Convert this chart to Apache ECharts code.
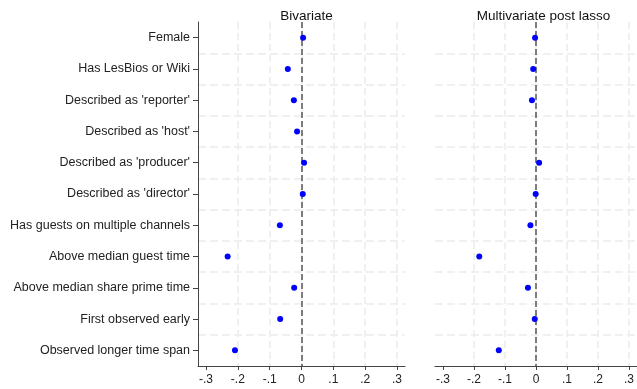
<!DOCTYPE html>
<html>
<head>
<meta charset="utf-8">
<script src="https://cdn.jsdelivr.net/npm/echarts@6/dist/echarts.min.js"></script>
<style>html,body{margin:0;padding:0;background:#fff}#c{width:637px;height:389px}</style>
</head>
<body>
<div id="c"></div>
<script>
var categories = ["Female","Has LesBios or Wiki","Described as 'reporter'","Described as 'host'","Described as 'producer'","Described as 'director'","Has guests on multiple channels","Above median guest time","Above median share prime time","First observed early","Observed longer time span"];
var bivariate = [0.005,-0.043,-0.024,-0.014,0.008,0.004,-0.068,-0.232,-0.023,-0.067,-0.209];
var multivariate = [-0.003,-0.009,-0.013,null,0.010,-0.001,-0.018,-0.183,-0.026,-0.004,-0.120];
var panelTitles = ["Bivariate","Multivariate post lasso"];
var tickValues = [-0.3,-0.2,-0.1,0,0.1,0.2,0.3];
var tickLabels = ["-.3","-.2","-.1","0",".1",".2",".3"];

var FONT = '"Liberation Sans", Arial, Helvetica, sans-serif';
var GRIDCOL = '#ebebeb';
function fmt(v){
  for (var i=0;i<tickValues.length;i++){ if (Math.abs(v-tickValues[i])<1e-9) return tickLabels[i]; }
  return '';
}
var TOP = 22, H = 344;
var grids = [
  {left:198, top:TOP, width:207, height:H},
  {left:206, top:TOP, width:191, height:H},
  {left:435, top:TOP, width:207, height:H},
  {left:443, top:TOP, width:191, height:H}
];
function outerX(g){
  return {
    type:'value', gridIndex:g, min:-0.325, max:0.325,
    axisLine:{show:true, onZero:false, lineStyle:{color:'#444', width:1}},
    axisTick:{show:false}, axisLabel:{show:false}, splitLine:{show:false}
  };
}
function innerX(g){
  return {
    type:'value', gridIndex:g, min:tickValues[0], max:tickValues[tickValues.length-1], interval:0.1,
    axisLine:{show:false, onZero:false},
    axisTick:{show:true, length:4, lineStyle:{color:'#444'}},
    axisLabel:{color:'#222', fontSize:12, fontFamily:FONT, margin:8, formatter:fmt},
    splitLine:{show:true, showMinLine:false, showMaxLine:true, lineStyle:{color:GRIDCOL, width:1.5, type:[7,4]}}
  };
}
function outerY(g, showAxis){
  return {
    type:'category', gridIndex:g, data:categories, inverse:true, boundaryGap:true,
    axisLine:{show:showAxis, onZero:false, lineStyle:{color:'#444', width:1}},
    axisTick:{show:showAxis, alignWithLabel:true, length:5, lineStyle:{color:'#444'}},
    axisLabel:{show:showAxis, color:'#222', fontSize:12.5, fontFamily:FONT, margin:8},
    splitLine:{show:true, showMinLine:false, showMaxLine:false, lineStyle:{color:GRIDCOL, width:1.5, type:[8,4]}}
  };
}
function innerY(g){
  return {
    type:'category', gridIndex:g, data:categories, inverse:true, boundaryGap:true,
    axisLine:{show:false, onZero:false}, axisTick:{show:false}, axisLabel:{show:false}, splitLine:{show:false}
  };
}
function seriesCfg(ax, data){
  return {
    type:'scatter', xAxisIndex:ax, yAxisIndex:ax,
    data: data.map(function(v,k){ return v===null ? null : [v, categories[k]]; }),
    symbolSize:6, itemStyle:{color:'#0000ff', opacity:1}, z:5,
    markLine:{
      silent:true, symbol:['none','none'], label:{show:false},
      lineStyle:{color:'#555', width:1.5, type:[6,3]},
      data:[{xAxis:0}]
    }
  };
}
var chart = echarts.init(document.getElementById('c'), null, {renderer:'canvas'});
chart.setOption({
  animation:false,
  backgroundColor:'#fff',
  title: [
    {text:panelTitles[0], left:301.5, top:4, textAlign:'center', textStyle:{fontSize:13.5, fontWeight:'normal', color:'#111', fontFamily:FONT}},
    {text:panelTitles[1], left:538.5, top:4, textAlign:'center', textStyle:{fontSize:13.5, fontWeight:'normal', color:'#111', fontFamily:FONT}}
  ],
  grid: grids,
  xAxis: [outerX(0), innerX(1), outerX(2), innerX(3)],
  yAxis: [outerY(0, true), innerY(1), outerY(2, false), innerY(3)],
  series: [seriesCfg(1, bivariate), seriesCfg(3, multivariate)]
});
</script>
</body>
</html>
